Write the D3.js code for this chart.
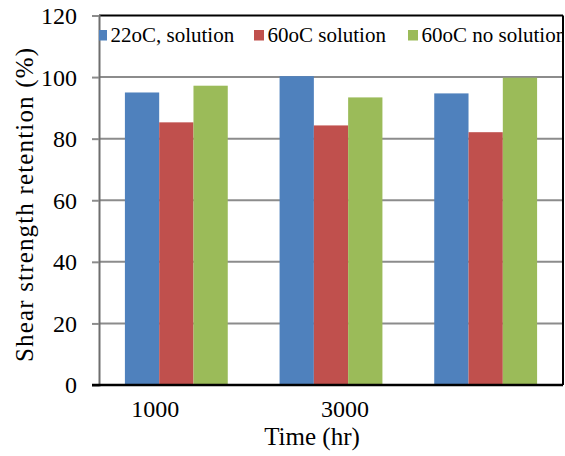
<!DOCTYPE html>
<html>
<head>
<meta charset="utf-8">
<script src="https://cdn.jsdelivr.net/npm/d3@7"></script>
<style>
  body { margin: 0; background: #fff; }
  svg text { font-family: "Liberation Serif", "Times New Roman", Times, serif; fill: #000; }
</style>
</head>
<body>
<div id="chart"></div>
<script>
// Chart data
var categories = ["1000", "3000", "5000"];
var xTickLabels = ["1000", "3000", ""];
var seriesNames = ["22oC, solution", "60oC solution", "60oC no solution"];
var seriesColors = ["#4f81bd", "#c0504d", "#9bbb59"];
var solution22 = [95.0, 100.3, 94.7];
var solution60 = [85.3, 84.3, 82.1];
var noSolution60 = [97.2, 93.4, 99.8];
var yTicks = [0, 20, 40, 60, 80, 100, 120];

var width = 565, height = 456;
var margin = { top: 15.5, right: 2, bottom: 71, left: 99 };
var plotW = width - margin.left - margin.right;
var plotH = height - margin.top - margin.bottom;
var serif = "'Liberation Serif', 'Times New Roman', serif";

var svg = d3.select("#chart")
    .append("svg")
    .attr("width", width)
    .attr("height", height)
    .attr("font-family", serif);

var g = svg.append("g")
    .attr("transform", "translate(" + margin.left + "," + margin.top + ")");

// scales
var x = d3.scaleBand()
    .domain(categories)
    .range([0, plotW])
    .paddingInner(0.335)
    .paddingOuter(0.1675);

var x1 = d3.scaleBand()
    .domain(d3.range(seriesNames.length))
    .range([0, x.bandwidth()]);

var y = d3.scaleLinear()
    .domain([0, 120])
    .range([plotH, 0]);

var allSeries = [solution22, solution60, noSolution60];

// gridlines
g.selectAll(".grid")
    .data(yTicks.filter(function (d) { return d > 0 && d < 120; }))
    .enter()
    .append("line")
    .attr("x1", 0)
    .attr("x2", plotW)
    .attr("y1", function (d) { return y(d); })
    .attr("y2", function (d) { return y(d); })
    .style("stroke", "#8c8c8c")
    .style("stroke-width", 2);

// bars
var groups = g.selectAll(".group")
    .data(categories)
    .enter()
    .append("g")
    .attr("transform", function (d) { return "translate(" + x(d) + ",0)"; });

groups.selectAll("rect")
    .data(function (d, i) {
        return allSeries.map(function (s, j) { return { s: j, v: s[i] }; });
    })
    .enter()
    .append("rect")
    .attr("x", function (d) { return x1(d.s); })
    .attr("y", function (d) { return y(d.v); })
    .attr("width", x1.bandwidth())
    .attr("height", function (d) { return plotH - y(d.v); })
    .style("fill", function (d) { return seriesColors[d.s]; });

// top and right borders
g.append("line")
    .attr("x1", 0).attr("x2", plotW)
    .attr("y1", 0).attr("y2", 0)
    .style("stroke", "#000").style("stroke-width", 2);
g.append("line")
    .attr("x1", plotW).attr("x2", plotW)
    .attr("y1", 0).attr("y2", plotH)
    .style("stroke", "#000").style("stroke-width", 2);

// y axis
var yAxis = g.append("g")
    .call(d3.axisLeft(y).tickValues(yTicks).tickSize(7).tickPadding(15));
yAxis.attr("font-family", serif);
yAxis.select(".domain").style("stroke", "#6e6e6e").style("stroke-width", 2);
yAxis.selectAll(".tick line").style("stroke", "#8c8c8c").style("stroke-width", 2);
yAxis.selectAll(".tick text")
    .style("font-family", serif)
    .style("font-size", "24px")
    .attr("dy", "0.33em");

// bottom axis line
g.append("line")
    .attr("x1", -7).attr("x2", plotW)
    .attr("y1", plotH).attr("y2", plotH)
    .style("stroke", "#000").style("stroke-width", 2.5);

// x tick labels (sit a bit off the group centres in the original)
var labelShift = [-21, 14, 0];
g.selectAll(".xlab")
    .data(categories)
    .enter()
    .append("text")
    .attr("x", function (d, i) { return x(d) + x.bandwidth() / 2 + labelShift[i]; })
    .attr("y", plotH + 32)
    .attr("text-anchor", "middle")
    .style("font-size", "24px")
    .text(function (d, i) { return xTickLabels[i]; });

// axis titles
svg.append("text")
    .attr("x", 312)
    .attr("y", 445)
    .attr("text-anchor", "middle")
    .style("font-size", "25px")
    .text("Time (hr)");

svg.append("text")
    .attr("transform", "translate(33,205) rotate(-90)")
    .attr("text-anchor", "middle")
    .attr("textLength", 314)
    .style("font-size", "25px")
    .text("Shear strength  retention (%)");

// legend, clipped by the plot area
svg.append("defs").append("clipPath")
    .attr("id", "legclip")
    .append("rect")
    .attr("x", margin.left)
    .attr("y", margin.top)
    .attr("width", plotW)
    .attr("height", plotH);

var legendX = [97, 254, 408];
var legend = svg.append("g").attr("clip-path", "url(#legclip)");
var items = legend.selectAll(".leg")
    .data(seriesNames)
    .enter()
    .append("g")
    .attr("transform", function (d, i) { return "translate(" + legendX[i] + ",30)"; });

items.append("rect")
    .attr("width", 10)
    .attr("height", 10.5)
    .style("fill", function (d, i) { return seriesColors[i]; });

items.append("text")
    .attr("x", 13.5)
    .attr("y", 12)
    .style("font-size", "21px")
    .text(function (d) { return d; });
</script>
</body>
</html>
